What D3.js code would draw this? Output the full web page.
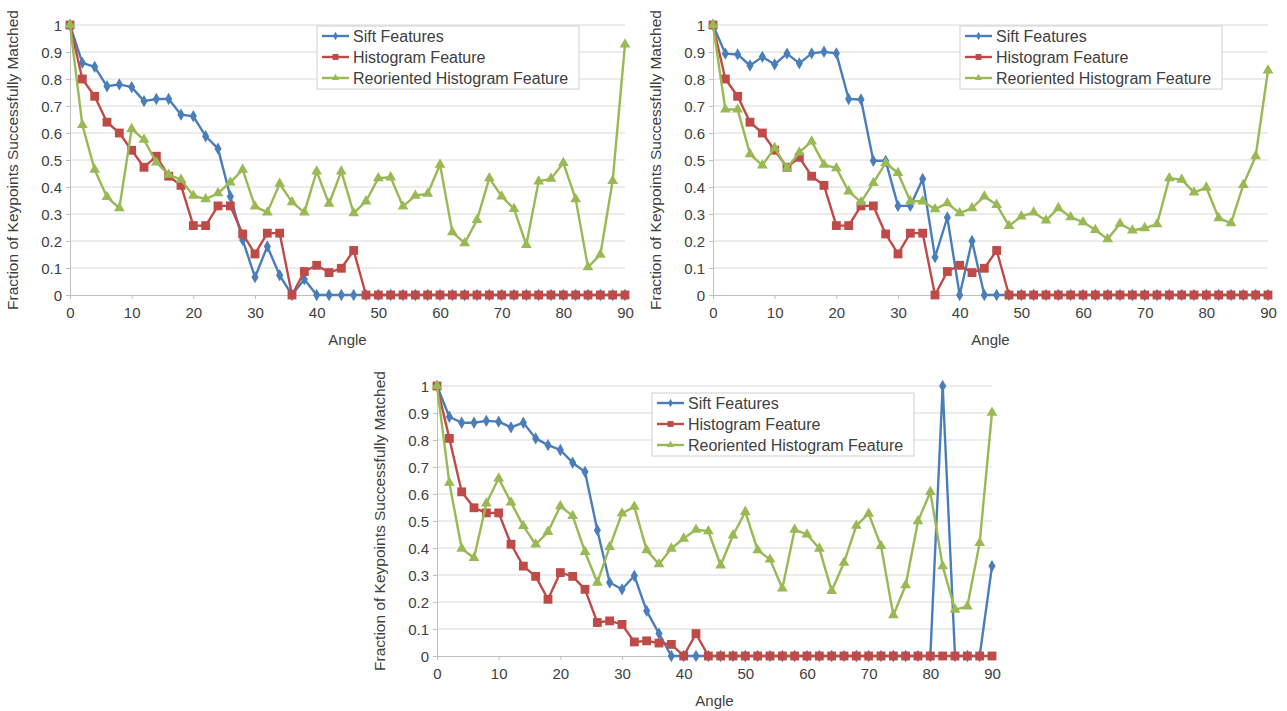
<!DOCTYPE html>
<html lang="en">
<head>
<meta charset="UTF-8" />
<title>Fraction of Keypoints Successfully Matched</title>
<script src="https://cdn.jsdelivr.net/npm/d3@7"></script>
<style>
  body { margin: 0; background: #fff; }
  svg text { font-family: "Liberation Sans", Arial, sans-serif; fill: #404040; }
</style>
</head>
<body>
<script>
// angles (x categories), shared by all three charts
const angles = [0, 2, 4, 6, 8, 10, 12, 14, 16, 18, 20, 22, 24, 26, 28, 30, 32, 34, 36, 38, 40, 42, 44,
                46, 48, 50, 52, 54, 56, 58, 60, 62, 64, 66, 68, 70, 72, 74, 76, 78, 80, 82, 84, 86, 88, 90];

const seriesNames = ["Sift Features", "Histogram Feature", "Reoriented Histogram Feature"];
const yTicks = [0, 0.1, 0.2, 0.3, 0.4, 0.5, 0.6, 0.7, 0.8, 0.9, 1];
const xTicks = [0, 10, 20, 30, 40, 50, 60, 70, 80, 90];

// chart 1 (top left)
const sift1 = [1, 0.86, 0.845, 0.773, 0.78, 0.77, 0.718, 0.726, 0.726, 0.668, 0.662, 0.588, 0.542, 0.365, 0.204, 0.066,
               0.18, 0.073, 0, 0.058, 0, 0, 0, 0, 0, 0, 0, 0, 0, 0, 0, 0, 0, 0, 0, 0, 0, 0, 0, 0, 0, 0, 0, 0, 0, 0];
const hist1 = [1, 0.8, 0.736, 0.64, 0.6, 0.536, 0.473, 0.514, 0.44, 0.406, 0.257, 0.257, 0.33, 0.33, 0.226, 0.152,
               0.229, 0.229, 0, 0.087, 0.11, 0.083, 0.099, 0.165, 0, 0, 0, 0, 0, 0, 0, 0, 0, 0, 0, 0, 0, 0, 0, 0, 0, 0, 0, 0, 0, 0];
const reor1 = [1, 0.63, 0.464, 0.363, 0.322, 0.615, 0.575, 0.491, 0.446, 0.427, 0.368, 0.355, 0.377, 0.417, 0.464, 0.328,
               0.306, 0.412, 0.344, 0.306, 0.458, 0.338, 0.458, 0.303, 0.347, 0.433, 0.436, 0.328, 0.368, 0.375, 0.483,
               0.233, 0.192, 0.278, 0.433, 0.365, 0.319, 0.186, 0.421, 0.431, 0.489, 0.355, 0.103, 0.149, 0.423, 0.928];

// chart 2 (top right)
const sift2 = [1, 0.894, 0.891, 0.85, 0.882, 0.854, 0.894, 0.858, 0.895, 0.901, 0.895, 0.726, 0.724, 0.497, 0.497, 0.33,
               0.33, 0.43, 0.14, 0.287, 0, 0.2, 0, 0, 0, 0, 0, 0, 0, 0, 0, 0, 0, 0, 0, 0, 0, 0, 0, 0, 0, 0, 0, 0, 0, 0];
const hist2 = [1, 0.8, 0.736, 0.64, 0.6, 0.536, 0.473, 0.51, 0.44, 0.406, 0.257, 0.257, 0.33, 0.33, 0.226, 0.152,
               0.229, 0.229, 0, 0.087, 0.11, 0.083, 0.099, 0.165, 0, 0, 0, 0, 0, 0, 0, 0, 0, 0, 0, 0, 0, 0, 0, 0, 0, 0, 0, 0, 0, 0];
const reor2 = [1, 0.687, 0.687, 0.522, 0.48, 0.545, 0.47, 0.528, 0.569, 0.483, 0.47, 0.384, 0.344, 0.415, 0.489, 0.452,
               0.347, 0.347, 0.318, 0.34, 0.303, 0.322, 0.365, 0.334, 0.256, 0.291, 0.306, 0.276, 0.322, 0.288, 0.27,
               0.241, 0.207, 0.264, 0.239, 0.248, 0.262, 0.433, 0.427, 0.38, 0.398, 0.285, 0.266, 0.408, 0.514, 0.832];

// chart 3 (bottom)
const sift3 = [1, 0.886, 0.864, 0.864, 0.871, 0.868, 0.847, 0.864, 0.806, 0.781, 0.763, 0.716, 0.682, 0.466, 0.272, 0.247,
               0.297, 0.167, 0.083, 0, 0, 0, 0, 0, 0, 0, 0, 0, 0, 0, 0, 0, 0, 0, 0, 0, 0, 0, 0, 0, 0, 1, 0, 0, 0, 0.333];
const hist3 = [1, 0.806, 0.608, 0.549, 0.53, 0.53, 0.414, 0.333, 0.295, 0.21, 0.309, 0.295, 0.247, 0.124, 0.13, 0.117,
               0.052, 0.056, 0.048, 0.043, 0, 0.083, 0, 0, 0, 0, 0, 0, 0, 0, 0, 0, 0, 0, 0, 0, 0, 0, 0, 0, 0, 0, 0, 0, 0, 0];
const reor3 = [1, 0.642, 0.398, 0.363, 0.565, 0.658, 0.569, 0.482, 0.413, 0.46, 0.555, 0.519, 0.386, 0.272, 0.404, 0.528,
               0.553, 0.392, 0.34, 0.398, 0.435, 0.468, 0.462, 0.336, 0.447, 0.534, 0.392, 0.358, 0.25, 0.468, 0.45,
               0.398, 0.241, 0.346, 0.483, 0.527, 0.408, 0.151, 0.262, 0.499, 0.608, 0.333, 0.172, 0.184, 0.419, 0.901];

const colors = ["#4a7ebb", "#be4b48", "#98b954"];
const symbols = [d3.symbolDiamond, d3.symbolSquare, d3.symbolTriangle];
const symSizes = [44, 78, 50];

const svg = d3.select("body").append("svg")
    .attr("width", 1287)
    .attr("height", 711);

// one panel per chart
function drawChart(opts) {
    const g = svg.append("g");
    const x = d3.scaleLinear([0, 90], [opts.left, opts.right]);
    const y = d3.scaleLinear([0, 1], [opts.bottom, opts.top]);

    // gridlines
    g.selectAll(".grid")
        .data(yTicks.slice(1))
        .enter().append("line")
        .attr("x1", opts.left).attr("x2", opts.right)
        .attr("y1", d => y(d)).attr("y2", d => y(d))
        .attr("stroke", "#d9d9d9").attr("stroke-width", 1);

    const yAxis = g.append("g")
        .attr("transform", "translate(" + opts.left + ",0)")
        .call(d3.axisLeft(y).tickValues(yTicks).tickSize(4).tickPadding(4).tickFormat(d => d3.format("~g")(d)));
    const xAxis = g.append("g")
        .attr("transform", "translate(0," + opts.bottom + ")")
        .call(d3.axisBottom(x).tickValues(xTicks).tickSize(4).tickPadding(8));
    [xAxis, yAxis].forEach(a => {
        a.select(".domain").attr("stroke", "#bfbfbf");
        a.selectAll(".tick line").attr("stroke", "#bfbfbf");
        a.selectAll(".tick text").style("font-size", "15px").attr("fill", "#404040");
    });
    yAxis.selectAll(".tick text").attr("dy", "0.36em");

    // axis titles
    g.append("text")
        .attr("x", (opts.left + opts.right) / 2)
        .attr("y", opts.bottom + 50)
        .attr("text-anchor", "middle")
        .style("font-size", "15px")
        .text("Angle");
    g.append("text")
        .attr("transform", "translate(" + (opts.left - 52) + "," + ((opts.top + opts.bottom) / 2) + ") rotate(-90)")
        .attr("text-anchor", "middle")
        .style("font-size", "15.5px")
        .text("Fraction of Keypoints Successfully Matched");

    // series
    const line = d3.line().x((d, i) => x(angles[i])).y(d => y(d));
    opts.series.forEach((vals, k) => {
        g.append("path")
            .datum(vals)
            .attr("d", line)
            .attr("fill", "none")
            .attr("stroke", colors[k])
            .attr("stroke-width", 2.4)
            .attr("stroke-linejoin", "round");
        g.selectAll(".pt" + k)
            .data(vals)
            .enter().append("path")
            .attr("d", d3.symbol(symbols[k], symSizes[k]))
            .attr("transform", (d, i) => "translate(" + x(angles[i]) + "," + y(d) + ")")
            .attr("fill", colors[k]);
    });

    // legend
    const lg = g.append("g").attr("transform", "translate(" + opts.legX + "," + opts.legY + ")");
    lg.append("rect")
        .attr("width", 262).attr("height", 63)
        .attr("fill", "#fff").attr("stroke", "#d0d0d0");
    seriesNames.forEach((name, k) => {
        const cy = 10 + k * 21;
        lg.append("line")
            .attr("x1", 5).attr("x2", 32).attr("y1", cy).attr("y2", cy)
            .attr("stroke", colors[k]).attr("stroke-width", 2.4);
        lg.append("path")
            .attr("d", d3.symbol(symbols[k], symSizes[k] * 0.45))
            .attr("transform", "translate(18.5," + cy + ")")
            .attr("fill", colors[k]);
        lg.append("text")
            .attr("x", 36).attr("y", cy + 5.5)
            .style("font-size", "16px")
            .text(name);
    });
}

drawChart({ left: 70, right: 625, top: 25, bottom: 295, legX: 317, legY: 26, series: [sift1, hist1, reor1] });
drawChart({ left: 713, right: 1268, top: 25, bottom: 295, legX: 960, legY: 26, series: [sift2, hist2, reor2] });
drawChart({ left: 437, right: 992, top: 386, bottom: 656, legX: 652, legY: 393, series: [sift3, hist3, reor3] });
</script>
</body>
</html>
